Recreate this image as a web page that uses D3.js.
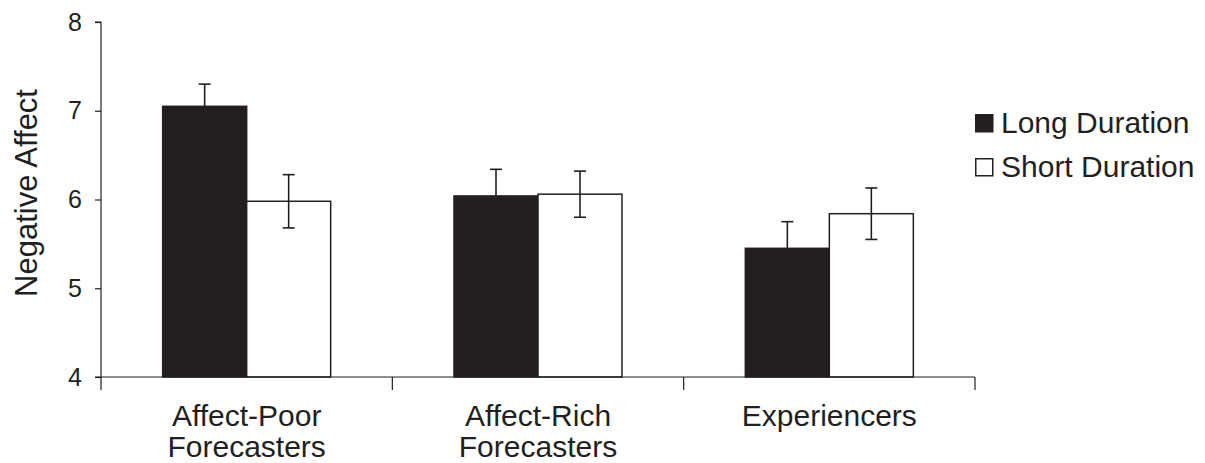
<!DOCTYPE html>
<html>
<head>
<meta charset="utf-8">
<script src="https://cdn.jsdelivr.net/npm/d3@7"></script>
<style>
  body { margin: 0; background: #fff; }
  svg { display: block; font-family: "Liberation Sans", Arial, sans-serif; }
</style>
</head>
<body>
<svg id="chart" width="1205" height="463"></svg>
<script>
// ---- data ----
const groups = ["Affect-Poor Forecasters", "Affect-Rich Forecasters", "Experiencers"];
const groupLines = [["Affect-Poor", "Forecasters"], ["Affect-Rich", "Forecasters"], ["Experiencers"]];
const seriesNames = ["Long Duration", "Short Duration"];
const longValues = [7.05, 6.04, 5.45];
const longErrors = [0.25, 0.30, 0.30];
const shortValues = [5.98, 6.06, 5.84];
const shortErrors = [0.30, 0.26, 0.29];
const yTicks = [4, 5, 6, 7, 8];

(function () {
const ink = "#231f20";
const svg = d3.select("#chart");

const mLeft = 101, mRight = 975, mTop = 22, mBottom = 377;
const y = d3.scaleLinear().domain([4, 8]).range([mBottom, mTop]);
const x0 = d3.scaleBand().domain(groups).range([mLeft, mRight]).padding(0);
const groupWidth = 168;
const x1 = d3.scaleBand().domain(seriesNames).range([0, groupWidth]).padding(0);
const offset = (x0.bandwidth() - groupWidth) / 2;

const rows = [];
groups.forEach((g, i) => {
  rows.push({ g, s: seriesNames[0], v: longValues[i], e: longErrors[i], fill: ink });
  rows.push({ g, s: seriesNames[1], v: shortValues[i], e: shortErrors[i], fill: "#fff" });
});

// bars
svg.append("g").selectAll("rect").data(rows).join("rect")
  .attr("x", d => x0(d.g) + offset + x1(d.s))
  .attr("y", d => y(d.v))
  .attr("width", x1.bandwidth())
  .attr("height", d => y(4) - y(d.v))
  .attr("fill", d => d.fill)
  .attr("stroke", ink)
  .attr("stroke-width", 1.5);

// error bars
const eb = svg.append("g").attr("stroke", ink).attr("stroke-width", 1.6).attr("fill", "none");
rows.forEach(d => {
  const cx = x0(d.g) + offset + x1(d.s) + x1.bandwidth() / 2;
  const y1 = y(d.v + d.e), y2 = y(d.v - d.e);
  eb.append("line").attr("x1", cx).attr("x2", cx).attr("y1", y1).attr("y2", y2);
  eb.append("line").attr("x1", cx - 6).attr("x2", cx + 6).attr("y1", y1).attr("y2", y1);
  eb.append("line").attr("x1", cx - 6).attr("x2", cx + 6).attr("y1", y2).attr("y2", y2);
});

// y axis
const yAxis = d3.axisLeft(y).tickValues(yTicks).tickSize(6).tickPadding(13).tickFormat(d3.format("d"));
const gy = svg.append("g").attr("transform", `translate(${mLeft},0)`).call(yAxis);
gy.select(".domain").attr("stroke", ink).attr("stroke-width", 1.2).attr("d", `M-6,${mTop}H0V${mBottom}H-6`);
gy.selectAll(".tick line").attr("stroke", ink).attr("stroke-width", 1.2);
gy.selectAll(".tick text").attr("font-size", 25).attr("fill", ink).attr("font-family", "Liberation Sans, Arial, sans-serif");

// x axis
const gx = svg.append("g").attr("transform", `translate(0,${mBottom})`);
gx.append("line").attr("x1", mLeft).attr("x2", mRight).attr("y1", 0).attr("y2", 0).attr("stroke", ink).attr("stroke-width", 1.2);
const boundaries = groups.map(g => x0(g)).concat([x0(groups[groups.length - 1]) + x0.bandwidth()]);
gx.selectAll("line.tk").data(boundaries).join("line").attr("class", "tk")
  .attr("x1", d => d).attr("x2", d => d).attr("y1", 0).attr("y2", 13)
  .attr("stroke", ink).attr("stroke-width", 1.2);
const lbl = gx.selectAll("text").data(groups).join("text")
  .attr("text-anchor", "middle")
  .attr("font-size", 30)
  .attr("fill", ink);
lbl.each(function(g, i) {
  const t = d3.select(this);
  groupLines[i].forEach((line, j) => {
    t.append("tspan").attr("x", x0(g) + x0.bandwidth() / 2).attr("y", 49 + j * 31).text(line);
  });
});

// y title
svg.append("text")
  .attr("transform", `translate(37,193) rotate(-90)`)
  .attr("text-anchor", "middle")
  .attr("font-size", 31)
  .attr("fill", ink)
  .text("Negative Affect");

// legend
const legend = svg.append("g").attr("transform", "translate(975,114)");
const legendFills = [ink, "#fff"];
seriesNames.forEach((s, i) => {
  const row = legend.append("g").attr("transform", `translate(0,${i * 44})`);
  row.append("rect").attr("x", 0.75).attr("y", 0.75).attr("width", 17).attr("height", 17)
    .attr("fill", legendFills[i]).attr("stroke", ink).attr("stroke-width", 1.5);
  row.append("text").attr("x", 26).attr("y", 19).attr("font-size", 30).attr("fill", ink).text(s);
});
})();
</script>
</body>
</html>
